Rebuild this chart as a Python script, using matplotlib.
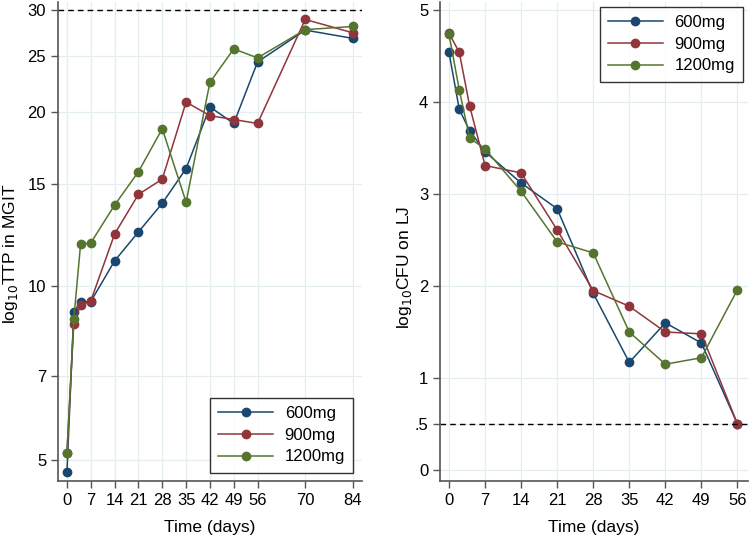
import matplotlib
matplotlib.use("Agg")
import matplotlib.pyplot as plt
from matplotlib.ticker import FixedLocator, NullLocator

plt.rcParams['font.family'] = ['Liberation Sans', 'DejaVu Sans']

# data
doses = ["600mg", "900mg", "1200mg"]
colors = ["#1a476f", "#90353b", "#55752f"]

ttp_days = [0, 2, 4, 7, 14, 21, 28, 35, 42, 49, 56, 70, 84]
ttp_600 = [4.77, 9.0, 9.38, 9.4, 11.05, 12.4, 13.9, 15.96, 20.4, 19.1, 24.4, 27.7, 26.8]
ttp_900 = [5.15, 8.6, 9.27, 9.42, 12.3, 14.4, 15.3, 20.8, 19.7, 19.4, 19.1, 28.9, 27.4]
ttp_1200 = [5.15, 8.76, 11.8, 11.87, 13.8, 15.76, 18.7, 13.96, 22.5, 25.7, 24.8, 27.75, 28.1]

cfu_days = [0, 2, 4, 7, 14, 21, 28, 35, 42, 49, 56]
cfu_600 = [4.54, 3.92, 3.69, 3.46, 3.12, 2.84, 1.92, 1.17, 1.60, 1.38, 0.5]
cfu_900 = [4.75, 4.54, 3.96, 3.31, 3.23, 2.61, 1.95, 1.78, 1.50, 1.48, 0.5]
cfu_1200 = [4.74, 4.13, 3.61, 3.49, 3.03, 2.48, 2.36, 1.50, 1.15, 1.22, 1.96]

ttp_xticks = [0, 7, 14, 21, 28, 35, 42, 49, 56, 70, 84]
ttp_yticks = [5, 7, 10, 15, 20, 25, 30]
cfu_xticks = [0, 7, 14, 21, 28, 35, 42, 49, 56]
cfu_yticks = [0, 0.5, 1, 2, 3, 4, 5]
cfu_ylabels = ["0", ".5", "1", "2", "3", "4", "5"]

grid_col = "#e4eef1"
spine_col = "#555555"

fig = plt.figure(figsize=(7.5, 5.36), dpi=100)
ax1 = fig.add_axes([0.0773, 0.1026, 0.405, 0.894])
ax2 = fig.add_axes([0.5867, 0.1026, 0.411, 0.894])


def style(ax):
    for s in ["top", "right"]:
        ax.spines[s].set_visible(False)
    for s in ["left", "bottom"]:
        ax.spines[s].set_color(spine_col)
        ax.spines[s].set_linewidth(1.2)
    ax.tick_params(axis="both", direction="out", length=5, width=1,
                   color=spine_col, labelsize=12, labelcolor="black")
    ax.grid(True, color=grid_col, linewidth=0.9)
    ax.set_axisbelow(True)
    ax.set_xlabel("Time (days)", fontsize=12.5, labelpad=9)


# left panel: TTP
for ys, c, lab in zip([ttp_600, ttp_900, ttp_1200], colors, doses):
    ax1.plot(ttp_days, ys, color=c, marker="o", markersize=6, linewidth=1.1, label=lab)
ax1.set_yscale("log")
ax1.set_ylim(4.6, 31.0)
ax1.set_xlim(-2.64, 86.6)
ax1.yaxis.set_major_locator(FixedLocator(ttp_yticks))
ax1.yaxis.set_minor_locator(NullLocator())
ax1.set_yticklabels([str(v) for v in ttp_yticks])
ax1.set_xticks(ttp_xticks)
ax1.axhline(30, color="black", linestyle=(0, (4, 3)), linewidth=1)
ax1.set_ylabel("log$_{10}$TTP in MGIT", fontsize=12.5)
ax1.yaxis.set_label_coords(-0.125, 0.474)
style(ax1)
leg1 = ax1.legend(loc="lower right", fontsize=12, frameon=True, fancybox=False,
                  edgecolor="black", borderpad=0.5, handlelength=3.3,
                  handletextpad=0.7, labelspacing=0.4, borderaxespad=0.5)
leg1.get_frame().set_linewidth(1)

# right panel: CFU
for ys, c, lab in zip([cfu_600, cfu_900, cfu_1200], colors, doses):
    ax2.plot(cfu_days, ys, color=c, marker="o", markersize=6, linewidth=1.1, label=lab)
ax2.set_ylim(-0.12, 5.09)
ax2.set_xlim(-1.74, 58.1)
ax2.set_yticks(cfu_yticks)
ax2.set_yticklabels(cfu_ylabels)
ax2.set_xticks(cfu_xticks)
ax2.axhline(0.5, color="black", linestyle=(0, (4, 3)), linewidth=1)
ax2.set_ylabel("log$_{10}$CFU on LJ", fontsize=12.5)
ax2.yaxis.set_label_coords(-0.084, 0.445)
style(ax2)
leg2 = ax2.legend(loc="upper right", fontsize=12, frameon=True, fancybox=False,
                  edgecolor="black", borderpad=0.5, handlelength=3.3,
                  handletextpad=0.7, labelspacing=0.4, borderaxespad=0.3)
leg2.get_frame().set_linewidth(1)

fig.savefig("out.png", dpi=100, facecolor="white")
